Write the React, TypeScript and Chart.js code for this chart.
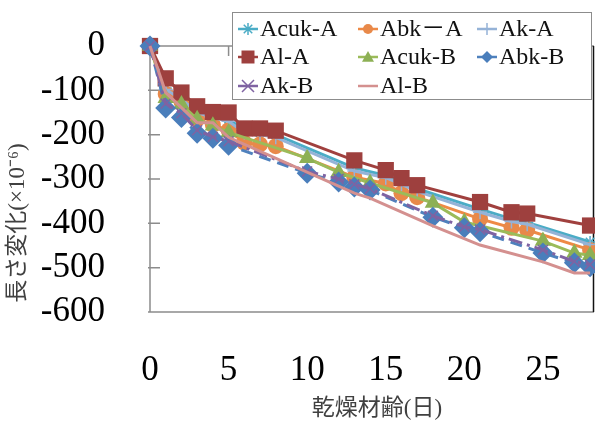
import React, { useEffect, useRef } from 'react';
import { Chart, registerables } from 'chart.js';

Chart.register(...registerables);

// ---- data ----
const daysA = [0, 1, 2, 3, 4, 5, 6, 7, 8, 13, 15, 16, 17, 21, 23, 24, 28];
const acukA = [0, -95, -118, -145, -158, -165, -190, -195, -200, -275, -292, -305, -322, -368, -390, -398, -442];
const abkA = [0, -108, -125, -165, -178, -190, -218, -222, -226, -296, -310, -332, -341, -390, -410, -415, -460];
const akA = [0, -98, -120, -150, -162, -170, -195, -200, -206, -282, -297, -312, -328, -375, -396, -402, -448];
const alA = [0, -73, -105, -136, -149, -150, -186, -186, -191, -258, -280, -298, -314, -352, -375, -378, -405];

const daysAcukB = [0, 1, 2, 3, 4, 5, 10, 12, 14, 18, 20, 25, 27, 28];
const acukB = [0, -118, -132, -165, -180, -195, -253, -285, -309, -354, -397, -440, -467, -472];
const daysB = [0, 1, 2, 3, 4, 5, 10, 12, 13, 14, 18, 20, 21, 25, 27, 28];
const abkB = [0, -140, -161, -197, -208, -224, -287, -307, -318, -325, -386, -410, -419, -467, -489, -498];
const akB = [0, -130, -152, -190, -205, -215, -283, -300, -312, -322, -383, -408, -414, -460, -486, -493];
const daysAlB = [0, 1, 2, 3, 4, 5, 13, 14, 18, 21, 25, 27, 28];
const alB = [0, -105, -139, -173, -173, -206, -332, -343, -406, -449, -487, -512, -512];

const xTicks = [0, 5, 10, 15, 20, 25];
const yTicks = [0, -100, -200, -300, -400, -500, -600];
const xTitle = '乾燥材齢(日)';
const yTitle = '長さ変化(×10⁻⁶)';

type S = {
  label: string; days: number[]; vals: number[]; color: string; fill: string;
  style: string | false; r: number; dash: number[]; lr: number;
};

const series: S[] = [
  { label: 'Acuk-A', days: daysA, vals: acukA, color: '#4BACC6', fill: '#4BACC6', style: 'star', r: 6, dash: [], lr: 6 },
  { label: 'Abk－A', days: daysA, vals: abkA, color: '#EE8A45', fill: '#E8894A', style: 'circle', r: 8, dash: [], lr: 5 },
  { label: 'Ak-A', days: daysA, vals: akA, color: '#95B3D7', fill: '#95B3D7', style: 'cross', r: 7, dash: [], lr: 6 },
  { label: 'Al-A', days: daysA, vals: alA, color: '#A0403E', fill: '#9E403E', style: 'rect', r: 11.5, dash: [], lr: 6.5 },
  { label: 'Acuk-B', days: daysAcukB, vals: acukB, color: '#9BBB59', fill: '#8DB055', style: 'triangle', r: 9.5, dash: [], lr: 6 },
  { label: 'Abk-B', days: daysB, vals: abkB, color: '#4F81BD', fill: '#4A7EBB', style: 'rectRot', r: 10.5, dash: [12, 7], lr: 6 },
  { label: 'Ak-B', days: daysB, vals: akB, color: '#7F63A2', fill: '#7F63A2', style: 'crossRot', r: 7, dash: [14, 5, 3, 5], lr: 6 },
  { label: 'Al-B', days: daysAlB, vals: alB, color: '#D4908F', fill: '#D4908F', style: false, r: 0, dash: [], lr: 0 },
];

const serif = "'Liberation Serif', 'Times New Roman', serif";
const cjk = "'Liberation Serif', 'Noto Sans CJK JP', serif";

function drawMarker(ctx: CanvasRenderingContext2D, style: string | false, x: number, y: number, r: number, fill: string, stroke: string) {
  if (!style) return;
  ctx.save();
  ctx.fillStyle = fill;
  ctx.strokeStyle = stroke;
  ctx.lineWidth = 1.5;
  ctx.setLineDash([]);
  ctx.beginPath();
  switch (style) {
    case 'circle':
      ctx.arc(x, y, r, 0, Math.PI * 2);
      ctx.fill();
      break;
    case 'rect':
      ctx.rect(x - r, y - r, 2 * r, 2 * r);
      ctx.fill();
      break;
    case 'rectRot':
      ctx.moveTo(x, y - r); ctx.lineTo(x + r, y); ctx.lineTo(x, y + r); ctx.lineTo(x - r, y); ctx.closePath();
      ctx.fill();
      break;
    case 'triangle':
      ctx.moveTo(x, y - r); ctx.lineTo(x + r, y + r * 0.8); ctx.lineTo(x - r, y + r * 0.8); ctx.closePath();
      ctx.fill();
      break;
    case 'cross':
      ctx.moveTo(x - r, y); ctx.lineTo(x + r, y); ctx.moveTo(x, y - r); ctx.lineTo(x, y + r);
      ctx.stroke();
      break;
    case 'crossRot':
      ctx.moveTo(x - r, y - r); ctx.lineTo(x + r, y + r); ctx.moveTo(x - r, y + r); ctx.lineTo(x + r, y - r);
      ctx.stroke();
      break;
    case 'star': {
      const d = r * Math.SQRT1_2;
      ctx.moveTo(x - r, y); ctx.lineTo(x + r, y); ctx.moveTo(x, y - r); ctx.lineTo(x, y + r);
      ctx.moveTo(x - d, y - d); ctx.lineTo(x + d, y + d); ctx.moveTo(x - d, y + d); ctx.lineTo(x + d, y - d);
      ctx.stroke();
      break;
    }
  }
  ctx.restore();
}

const framePlugin = {
  id: 'frame',
  beforeDatasetsDraw(chart: any) {
    const { ctx, chartArea: a, scales } = chart;
    const ys = scales.y, xs = scales.x;
    const y0 = ys.getPixelForValue(0);
    ctx.save();
    ctx.strokeStyle = '#8C8C8C';
    ctx.lineWidth = 1.5;
    ctx.beginPath();
    ctx.moveTo(a.left, y0); ctx.lineTo(a.right, y0);
    ctx.moveTo(a.left, a.top); ctx.lineTo(a.left, a.bottom);
    ctx.moveTo(a.left, a.bottom); ctx.lineTo(a.right, a.bottom);
    xTicks.forEach((v) => {
      if (v === 0) return;
      const px = xs.getPixelForValue(v);
      ctx.moveTo(px, y0); ctx.lineTo(px, y0 + 10);
    });
    yTicks.forEach((v) => {
      if (v === 0) return;
      const py = ys.getPixelForValue(v);
      ctx.moveTo(a.left - 2, py); ctx.lineTo(a.left + 10, py);
    });
    ctx.stroke();
    ctx.strokeStyle = '#111';
    ctx.lineWidth = 1.5;
    ctx.beginPath();
    ctx.moveTo(a.right - 0.5, a.top); ctx.lineTo(a.right - 0.5, a.bottom);
    ctx.stroke();
    ctx.restore();
  },
  afterDraw(chart: any) {
    const { ctx } = chart;
    ctx.save();
    ctx.fillStyle = '#404040';
    ctx.font = `23px ${cjk}`;
    ctx.textAlign = 'center';
    ctx.textBaseline = 'middle';
    ctx.fillText(xTitle, 377, 409);
    ctx.translate(18, 223);
    ctx.rotate(-Math.PI / 2);
    ctx.fillText(yTitle, 0, 0);
    ctx.restore();

    ctx.save();
    const bx = 232, by = 12, bw = 359, bh = 87;
    ctx.fillStyle = '#FFFFFF';
    ctx.fillRect(bx, by, bw, bh);
    ctx.strokeStyle = '#8C8C8C';
    ctx.lineWidth = 1;
    ctx.strokeRect(bx + 0.5, by + 0.5, bw, bh);
    const colX = [238, 358, 477];
    const rowY = [29, 57, 86];
    series.forEach((s, i) => {
      const cx = colX[i % 3];
      const cy = rowY[Math.floor(i / 3)];
      ctx.save();
      ctx.strokeStyle = s.color;
      ctx.lineWidth = 2.5;
      ctx.setLineDash([]);
      ctx.beginPath();
      ctx.moveTo(cx, cy); ctx.lineTo(cx + 20, cy);
      ctx.stroke();
      ctx.restore();
      drawMarker(ctx, s.style, cx + 10, cy, s.lr, s.fill, s.color);
      ctx.fillStyle = '#111';
      ctx.font = `24px ${cjk}`;
      ctx.textAlign = 'left';
      ctx.textBaseline = 'middle';
      ctx.fillText(s.label, cx + 22, cy + 1);
    });
    ctx.restore();
  },
};

export default function App() {
  const ref = useRef<HTMLCanvasElement | null>(null);
  useEffect(() => {
    document.body.style.margin = '0';
    const canvas = ref.current;
    if (!canvas) return;
    const datasets = series.map((s, i) => ({
      label: s.label,
      data: s.days.map((d, j) => ({ x: d, y: s.vals[j] })),
      borderColor: s.color,
      backgroundColor: s.fill,
      borderWidth: 3,
      borderDash: s.dash,
      pointStyle: s.style === false ? 'circle' : (s.style as any),
      pointRadius: s.r,
      pointBorderColor: s.style === 'cross' || s.style === 'crossRot' || s.style === 'star' ? s.color : s.fill,
      pointBackgroundColor: s.fill,
      pointBorderWidth: s.style === 'cross' || s.style === 'crossRot' || s.style === 'star' ? 1.5 : 0,
      tension: 0,
      clip: false as any,
      order: 20 - i,
    }));
    const chart = new Chart(canvas, {
      type: 'line',
      data: { datasets },
      options: {
        animation: false,
        responsive: false,
        maintainAspectRatio: false,
        layout: { autoPadding: false, padding: { top: 46, right: 1, left: 0, bottom: 0 } },
        plugins: { legend: { display: false }, tooltip: { enabled: false } },
        scales: {
          x: {
            type: 'linear',
            min: 0,
            max: 28.25,
            grid: { display: false, drawTicks: true, tickLength: 35 },
            border: { display: false },
            afterBuildTicks: (sc: any) => { sc.ticks = xTicks.map((v) => ({ value: v })); },
            afterFit: (sc: any) => { sc.height = 112; sc.paddingLeft = 0; sc.paddingRight = 0; },
            ticks: { padding: 3, color: '#000', font: { family: serif, size: 35 }, maxRotation: 0, autoSkip: false },
          },
          y: {
            type: 'linear',
            min: -600,
            max: 0,
            grid: { display: false, drawTicks: true, tickLength: 42 },
            border: { display: false },
            afterBuildTicks: (sc: any) => { sc.ticks = yTicks.map((v) => ({ value: v })); },
            afterFit: (sc: any) => { sc.width = 150; sc.paddingTop = 0; sc.paddingBottom = 0; },
            ticks: { padding: 3, color: '#000', font: { family: serif, size: 35 }, autoSkip: false },
          },
        },
      },
      plugins: [framePlugin],
    });
    return () => chart.destroy();
  }, []);
  return (
    <div style={{ position: 'absolute', left: 0, top: 0, width: 595, height: 424, background: '#fff' }}>
      <canvas ref={ref} width={595} height={424} />
    </div>
  );
}
